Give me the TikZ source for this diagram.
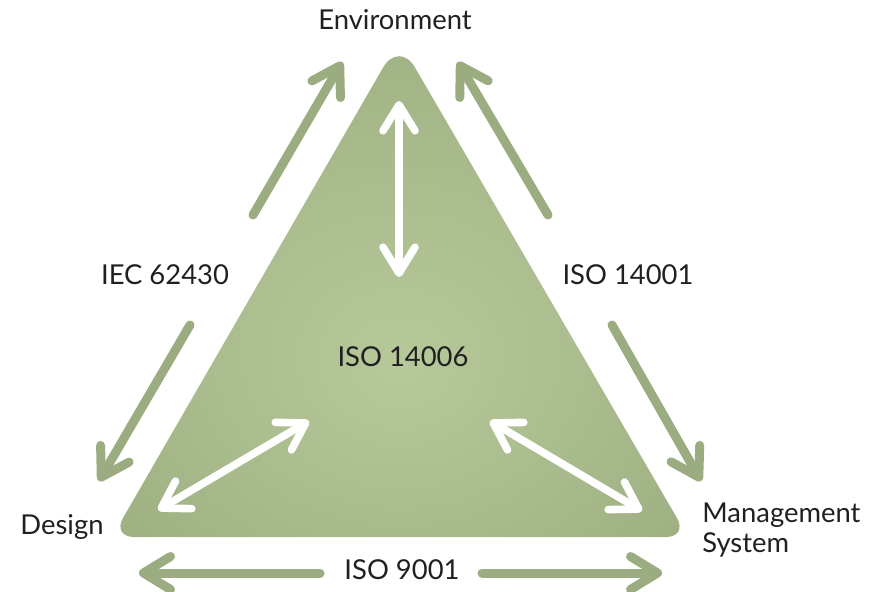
\documentclass[tikz,border=0pt]{standalone}
\usepackage{fontspec}
\setmainfont{Lato}
\usetikzlibrary{arrows.meta}
\definecolor{TriDark}{RGB}{149,166,120}
\definecolor{TriLight}{RGB}{183,201,155}
\definecolor{LinkGreen}{RGB}{155,172,128}
\definecolor{LabelInk}{RGB}{35,31,32}
\pgfdeclareradialshading{triglow}{\pgfpoint{0bp}{-8bp}}{color(0bp)=(TriLight); color(45bp)=(TriDark); color(60bp)=(TriDark)}

\begin{document}
\begin{tikzpicture}[x=0.5pt,y=-0.5pt,
    lbl/.style={text=LabelInk,font=\fontsize{13.7}{15}\selectfont,inner sep=0pt},
    link/.style={draw=LinkGreen,line width=4.5pt,line cap=round,
        -{Straight Barb[round,length=13.5pt,width=16.5pt]}},
    inlink/.style={draw=white,line width=3.8pt,line cap=round,
        {Straight Barb[round,length=13pt,width=16pt]}-{Straight Barb[round,length=13pt,width=16pt]}}]
    \useasboundingbox (0,0) rectangle (876,592);
    % triangle
    \shade[shading=triglow,rounded corners=11pt] (400,537) -- (112,537)
        [rounded corners=16pt] -- (399,40) [rounded corners=11pt] -- (688,537) -- cycle;
    % labels
    \node[lbl] (env) at (395,20) {Environment};
    \node[lbl] (iec) at (165,275) {IEC 62430};
    \node[lbl] (iso14001) at (628,275) {ISO 14001};
    \node[lbl] (iso14006) at (403,357) {ISO 14006};
    \node[lbl] (design) at (62,527) {Design};
    \node[lbl,align=left,anchor=west] (mgmt) at (702,530) {Management\\[0pt]System};
    \node[lbl] (iso9001) at (402,570) {ISO 9001};
    % arrow ends
    \coordinate (lu1) at (253,215); \coordinate (lu2) at (342,62);
    \coordinate (ru1) at (548,215); \coordinate (ru2) at (458,62);
    \coordinate (ll1) at (190,325); \coordinate (ll2) at (99,481);
    \coordinate (rl1) at (612,325); \coordinate (rl2) at (701,481);
    \coordinate (bl1) at (320,573); \coordinate (bl2) at (139,573);
    \coordinate (br1) at (482,573); \coordinate (br2) at (662,573);
    \coordinate (top1) at (399,101); \coordinate (top2) at (399,277);
    \coordinate (dl1) at (158,510); \coordinate (dl2) at (309,421);
    \coordinate (dr1) at (490,421); \coordinate (dr2) at (642,511);
    % outer arrows
    \draw[link] (lu1) -- (lu2);
    \draw[link] (ru1) -- (ru2);
    \draw[link] (ll1) -- (ll2);
    \draw[link] (rl1) -- (rl2);
    \draw[link] (bl1) -- (bl2);
    \draw[link] (br1) -- (br2);
    % inner arrows
    \draw[inlink] (top1) -- (top2);
    \draw[inlink] (dl1) -- (dl2);
    \draw[inlink] (dr1) -- (dr2);
\end{tikzpicture}
\end{document}
